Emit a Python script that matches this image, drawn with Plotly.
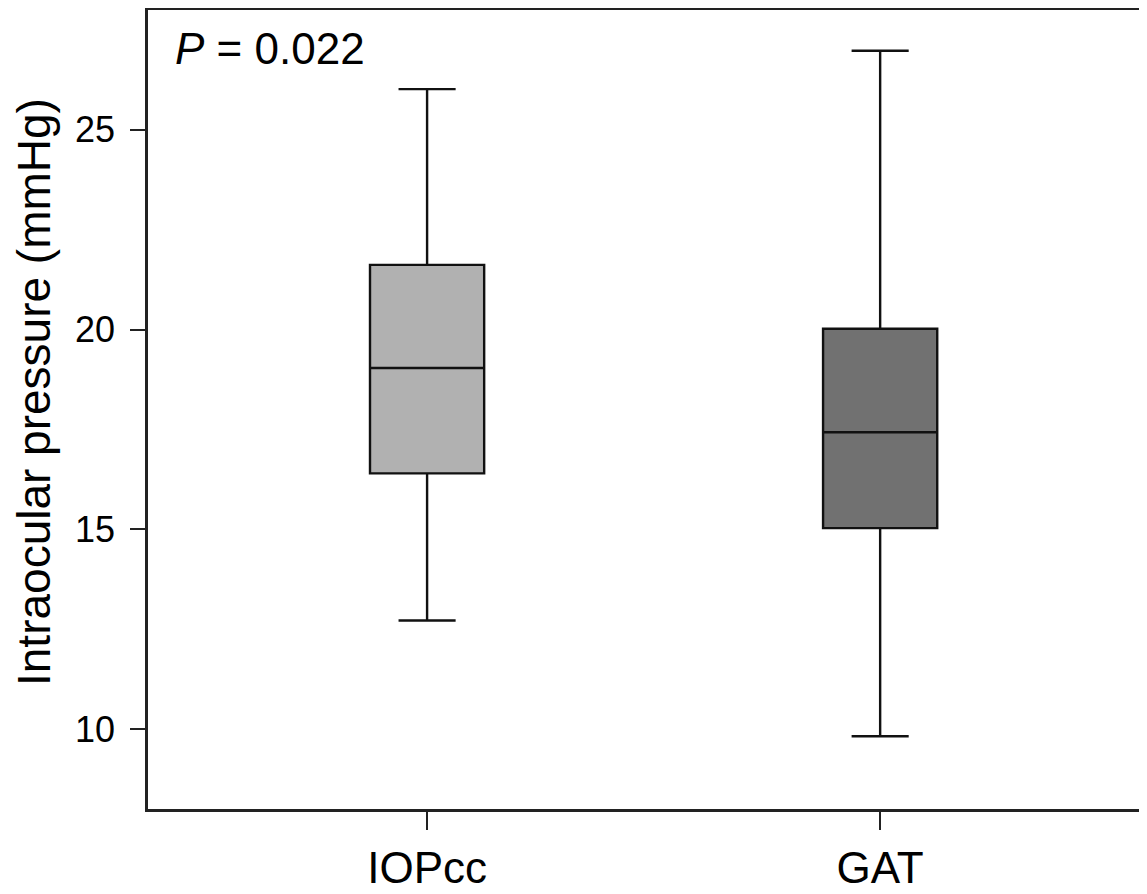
import plotly.graph_objects as go

categories = ["IOPcc", "GAT"]
lower_whisker = [12.72, 9.82]
q1 = [16.40, 15.03]
median = [19.04, 17.43]
q3 = [21.62, 20.02]
upper_whisker = [26.02, 26.98]
fill_colors = ["#b1b1b1", "#717171"]

y_ticks = [10, 15, 20, 25]
annotation_text = "<i>P</i> = 0.022"
y_title = "Intraocular pressure (mmHg)"

FONT = "Arial, Liberation Sans, sans-serif"

# page body has an 8px default margin; offset everything by it
OFF = 8
L, T = 148 - OFF, 10 - OFF
PW, PH = 999, 799

fig = go.Figure()
for i, cat in enumerate(categories):
    fig.add_trace(go.Box(
        x=[cat],
        q1=[q1[i]], median=[median[i]], q3=[q3[i]],
        lowerfence=[lower_whisker[i]], upperfence=[upper_whisker[i]],
        fillcolor=fill_colors[i],
        line=dict(color="#111111", width=2.4),
        width=0.252,
        whiskerwidth=0.5,
        boxpoints=False,
        showlegend=False,
        hoverinfo="skip",
    ))

fig.update_layout(
    width=1147 - OFF, height=894 - OFF,
    margin=dict(l=L, r=0, t=T, b=85),
    paper_bgcolor="white", plot_bgcolor="white",
    font=dict(family=FONT, color="black"),
    showlegend=False,
    xaxis=dict(
        type="category",
        categoryorder="array", categoryarray=categories,
        range=[-0.616, 1.589],
        showline=True, linecolor="#222222", linewidth=2.5, mirror=True,
        ticks="outside", ticklen=18, tickwidth=1.5, tickcolor="#222222",
        tickfont=dict(size=44, family=FONT, color="black"),
        ticklabelstandoff=0,
        showgrid=False, zeroline=False,
    ),
    yaxis=dict(
        range=[8.0, 28.0],
        tickvals=y_ticks,
        showline=True, linecolor="#222222", linewidth=2.5, mirror=False,
        ticks="outside", ticklen=15, tickwidth=1.5, tickcolor="#222222",
        tickfont=dict(size=36, family=FONT, color="black"),
        ticklabelstandoff=8,
        showgrid=False, zeroline=False,
    ),
    annotations=[
        dict(text=annotation_text, xref="paper", yref="paper",
             x=(173 - 148) / PW, y=(809 - 48) / PH,
             xanchor="left", yanchor="middle", showarrow=False,
             font=dict(size=44, family=FONT, color="black")),
        dict(text=y_title, xref="paper", yref="paper",
             x=(34 - 148) / PW, y=(809 - 392) / PH,
             xanchor="center", yanchor="middle", textangle=-90, showarrow=False,
             font=dict(size=46, family=FONT, color="black")),
    ],
)

fig.write_html("out.html")
